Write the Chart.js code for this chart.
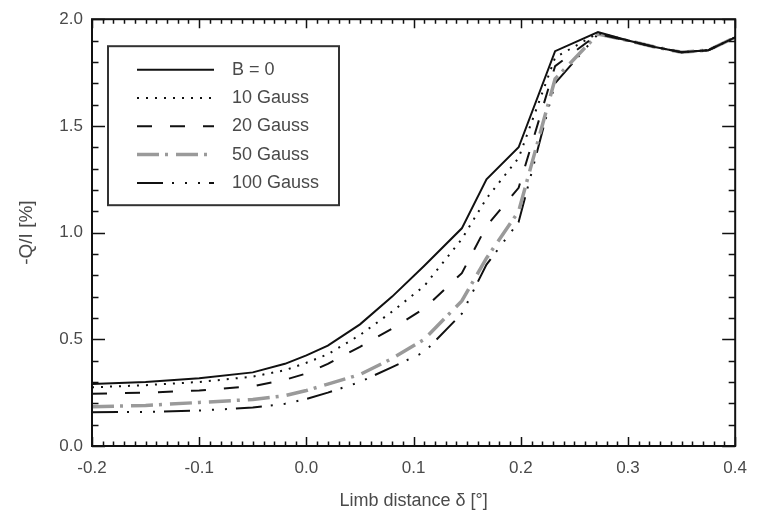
<!DOCTYPE html>
<html>
<head>
<meta charset="utf-8">
<script src="https://cdn.jsdelivr.net/npm/chart.js@4/dist/chart.umd.min.js"></script>
<style>
  html, body { margin: 0; padding: 0; background: #fff; }
  canvas { display: block; }
</style>
</head>
<body>
<canvas id="c" width="759" height="518"></canvas>
<script>
// Limb distance (degrees) at which the polarization was computed
const limbDistance = [-0.2, -0.15, -0.1, -0.05, -0.02, 0.0, 0.02, 0.05, 0.08, 0.11, 0.145, 0.168, 0.198, 0.232, 0.272, 0.30, 0.325, 0.35, 0.375, 0.40];

// -Q/I in percent for each field strength (inner part of the disk)
const fieldB0   = [0.290, 0.300, 0.318, 0.345, 0.385, 0.425, 0.470, 0.570, 0.700, 0.845, 1.020, 1.250, 1.400, 1.850, 1.940];
const field10G  = [0.275, 0.285, 0.300, 0.325, 0.355, 0.390, 0.430, 0.520, 0.630, 0.750, 0.970, 1.160, 1.350, 1.820, 1.935];
const field20G  = [0.245, 0.250, 0.260, 0.280, 0.310, 0.340, 0.385, 0.465, 0.550, 0.645, 0.810, 1.030, 1.210, 1.780, 1.930];
const field50G  = [0.184, 0.190, 0.204, 0.218, 0.236, 0.260, 0.290, 0.335, 0.410, 0.500, 0.680, 0.880, 1.100, 1.720, 1.930];
const field100G = [0.158, 0.160, 0.166, 0.180, 0.198, 0.220, 0.250, 0.300, 0.370, 0.440, 0.620, 0.850, 1.050, 1.700, 1.930];
// Beyond the limb all field strengths give the same curve
const offLimb   = [1.900, 1.870, 1.845, 1.855, 1.915];

const seriesLabels = ['B = 0', '10 Gauss', '20 Gauss', '50 Gauss', '100 Gauss'];
const xTicks = [-0.2, -0.1, 0.0, 0.1, 0.2, 0.3, 0.4];
const yTicks = [0.0, 0.5, 1.0, 1.5, 2.0];

const styles = [
  { color: '#111', width: 2,   dash: [] },
  { color: '#111', width: 2,   dash: [2, 7] },
  { color: '#111', width: 2,   dash: [15, 18] },
  { color: '#9a9a9a', width: 3.5, dash: [22, 6, 3, 8] },
  { color: '#111', width: 2,   dash: [26, 9, 2, 11, 2, 11, 2, 9] }
];

function toPoints(head) {
  return head.concat(offLimb).map((v, i) => ({ x: limbDistance[i], y: v }));
}

const seriesValues = [fieldB0, field10G, field20G, field50G, field100G];
const datasets = seriesValues.map((vals, i) => ({
  label: seriesLabels[i],
  data: toPoints(vals),
  borderColor: styles[i].color,
  borderWidth: styles[i].width,
  borderDash: styles[i].dash,
  borderCapStyle: 'butt',
  pointRadius: 0,
  tension: 0,
  fill: false
}));

const TXT = '#4a4a4a';
const FONT = 'Liberation Sans, Arial, Helvetica, sans-serif';

// Closed frame with inward-pointing ticks on all four sides
const framePlugin = {
  id: 'frame',
  afterDatasetsDraw(chart) {
    const { ctx, chartArea: a, scales: { x, y } } = chart;
    ctx.save();
    ctx.strokeStyle = '#111';
    ctx.lineWidth = 1.5;
    for (let i = 0; i <= 60; i++) {
      const v = -0.2 + i * 0.01;
      const px = Math.round(x.getPixelForValue(v)) + 0.5;
      const len = (i % 10 === 0) ? 9 : 4.5;
      ctx.beginPath();
      ctx.moveTo(px, a.bottom); ctx.lineTo(px, a.bottom - len);
      ctx.moveTo(px, a.top); ctx.lineTo(px, a.top + len);
      ctx.stroke();
    }
    for (let i = 0; i <= 20; i++) {
      const v = i * 0.1;
      const py = Math.round(y.getPixelForValue(v)) + 0.5;
      const len = (i % 5 === 0) ? 13 : 6.5;
      ctx.beginPath();
      ctx.moveTo(a.left, py); ctx.lineTo(a.left + len, py);
      ctx.moveTo(a.right, py); ctx.lineTo(a.right - len, py);
      ctx.stroke();
    }
    ctx.lineWidth = 2;
    ctx.strokeRect(a.left, a.top, a.right - a.left, a.bottom - a.top);
    ctx.restore();
  }
};

// Boxed legend in the upper left corner of the plot
const boxLegendPlugin = {
  id: 'boxLegend',
  afterDraw(chart) {
    const { ctx, chartArea: a } = chart;
    const bx = a.left + 16, by = a.top + 27, bw = 231, bh = 159;
    ctx.save();
    ctx.fillStyle = '#fff';
    ctx.fillRect(bx, by, bw, bh);
    ctx.strokeStyle = '#333';
    ctx.lineWidth = 2;
    ctx.strokeRect(bx, by, bw, bh);
    ctx.font = '18px ' + FONT;
    ctx.textBaseline = 'middle';
    ctx.textAlign = 'left';
    chart.data.datasets.forEach((ds, i) => {
      const ry = by + 23.5 + i * 28.3;
      ctx.beginPath();
      ctx.strokeStyle = ds.borderColor;
      ctx.lineWidth = ds.borderWidth;
      ctx.setLineDash(ds.borderDash);
      ctx.moveTo(bx + 29, ry);
      ctx.lineTo(bx + 106, ry);
      ctx.stroke();
      ctx.setLineDash([]);
      ctx.fillStyle = TXT;
      ctx.fillText(ds.label, bx + 124, ry);
    });
    ctx.restore();
  }
};

new Chart(document.getElementById('c'), {
  type: 'line',
  data: { datasets },
  options: {
    responsive: false,
    animation: false,
    devicePixelRatio: 1,
    layout: { padding: { top: 9, right: 12, left: 0, bottom: 0 } },
    plugins: { legend: { display: false }, tooltip: { enabled: false } },
    scales: {
      x: {
        type: 'linear',
        min: -0.2, max: 0.4,
        afterFit(scale) { scale.height = 72; },
        afterBuildTicks(scale) { scale.ticks = xTicks.map(v => ({ value: v })); },
        grid: { display: false, drawTicks: false },
        border: { display: false },
        ticks: {
          padding: 12,
          color: TXT,
          font: { family: FONT, size: 17 },
          maxRotation: 0,
          autoSkip: false,
          callback: v => v.toFixed(1)
        },
        title: {
          display: true,
          text: 'Limb distance δ [°]',
          color: TXT,
          font: { family: FONT, size: 18 },
          padding: { top: 0, bottom: 6 }
        }
      },
      y: {
        type: 'linear',
        min: 0, max: 2.0,
        afterFit(scale) { scale.width = 92; },
        afterBuildTicks(scale) { scale.ticks = yTicks.map(v => ({ value: v })); },
        grid: { display: false, drawTicks: false },
        border: { display: false },
        ticks: {
          padding: 9,
          color: TXT,
          font: { family: FONT, size: 17 },
          autoSkip: false,
          callback: v => v.toFixed(1)
        },
        title: {
          display: true,
          text: '-Q/I [%]',
          color: TXT,
          font: { family: FONT, size: 19 },
          padding: { top: 15, bottom: 0 }
        }
      }
    }
  },
  plugins: [framePlugin, boxLegendPlugin]
});
</script>
</body>
</html>
